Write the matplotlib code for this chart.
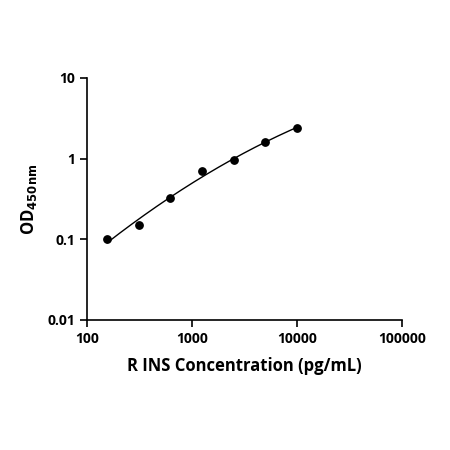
import numpy as np
import matplotlib
matplotlib.use("Agg")
import matplotlib.pyplot as plt
from matplotlib.ticker import FixedLocator, FixedFormatter, NullLocator

plt.rcParams['font.family'] = ['Open Sans', 'DejaVu Sans']
plt.rcParams['font.weight'] = 'bold'

# standard curve data
conc = [156.25, 312.5, 625, 1250, 2500, 5000, 10000]
od = [0.10, 0.15, 0.32, 0.70, 0.95, 1.60, 2.40]
x_ticks = [100, 1000, 10000, 100000]
x_labels = ["100", "1000", "10000", "100000"]
y_ticks = [0.01, 0.1, 1, 10]
y_labels = ["0.01", "0.1", "1", "10"]

fig = plt.figure(figsize=(4.5, 4.5), dpi=100)
ax = fig.add_axes([0.193, 0.289, 0.70, 0.538])

# fitted curve (quadratic in log-log space)
lx, ly = np.log10(conc), np.log10(od)
coef = np.polyfit(lx, ly, 2)
xs = np.linspace(lx.min(), lx.max(), 200)
ax.plot(10 ** xs, 10 ** np.polyval(coef, xs), color='black', lw=1)
ax.scatter(conc, od, color='black', s=28, zorder=3)

ax.set_xscale('log')
ax.set_yscale('log')
ax.set_xlim(100, 100000)
ax.set_ylim(0.01, 10)
ax.xaxis.set_major_locator(FixedLocator(x_ticks))
ax.xaxis.set_major_formatter(FixedFormatter(x_labels))
ax.yaxis.set_major_locator(FixedLocator(y_ticks))
ax.yaxis.set_major_formatter(FixedFormatter(y_labels))
ax.xaxis.set_minor_locator(NullLocator())
ax.yaxis.set_minor_locator(NullLocator())

for s in ['top', 'right']:
    ax.spines[s].set_visible(False)
for s in ['left', 'bottom']:
    ax.spines[s].set_linewidth(1.2)
ax.tick_params(width=1.2, length=5, labelsize=10)
for lab in ax.get_xticklabels() + ax.get_yticklabels():
    lab.set_fontweight('bold')

ax.set_xlabel("R INS Concentration (pg/mL)", fontsize=12, fontweight='bold', labelpad=8)
ax.set_ylabel(r"OD$_{\mathbf{450nm}}$", fontsize=12, fontweight='bold', labelpad=6)

fig.savefig("out.png", dpi=100)
